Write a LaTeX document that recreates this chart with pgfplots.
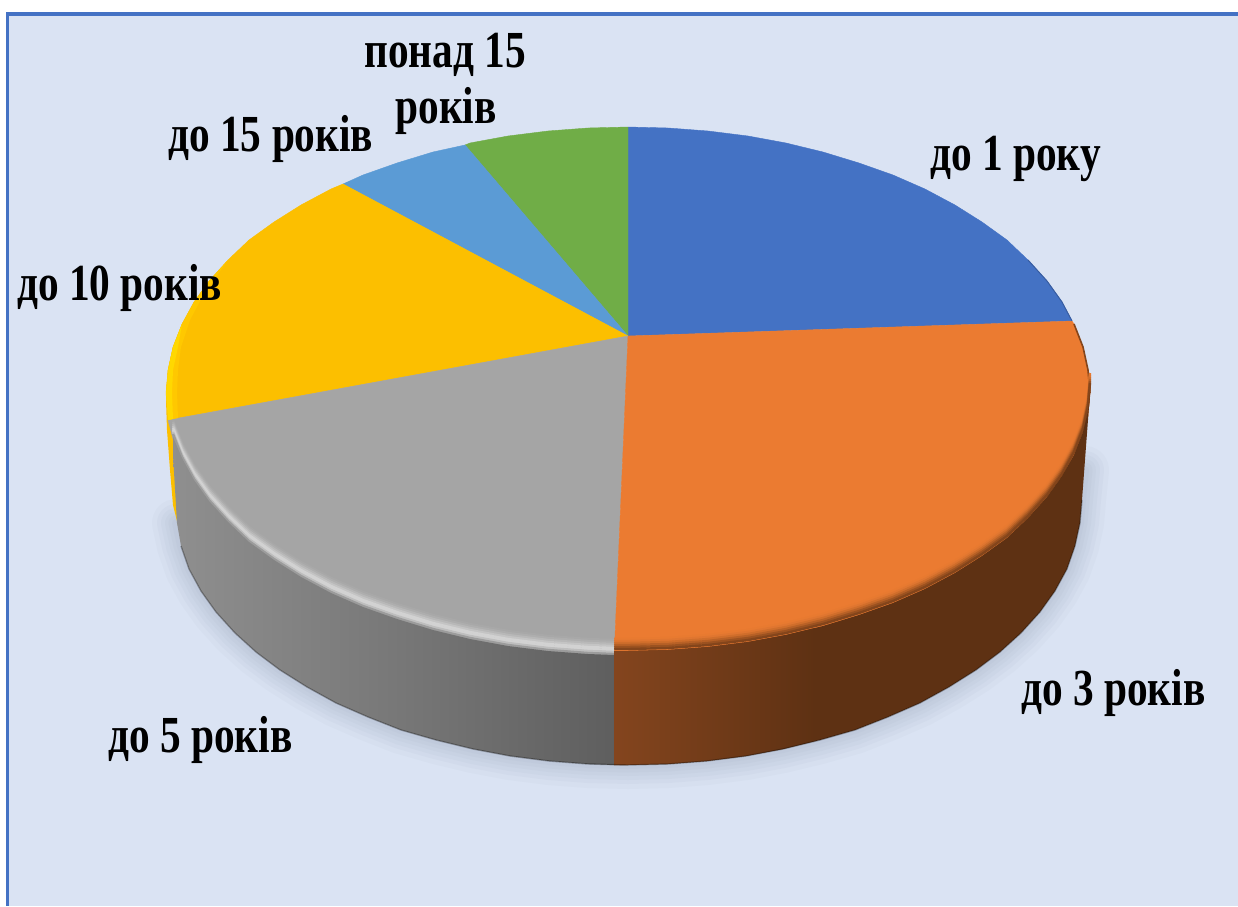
\documentclass[border=0pt]{standalone}
\usepackage{fontspec}
\setmainfont{Liberation Serif}
\usepackage{pgfplots}
\usepackage{pgfplotstable}
\pgfplotsset{compat=1.18}
\definecolor{bgc}{HTML}{DAE3F3}
\definecolor{frm}{HTML}{4472C4}
\definecolor{sb}{HTML}{4472C4}
\definecolor{so}{HTML}{EB7B31}
\definecolor{sg}{HTML}{A5A5A5}
\definecolor{sy}{HTML}{FCBF00}
\definecolor{sl}{HTML}{5B9BD5}
\definecolor{sn}{HTML}{70AD47}
\definecolor{shd}{HTML}{7F8FA8}
\definecolor{oa}{HTML}{E87A30}
\definecolor{ob}{HTML}{E07630}
\definecolor{oc}{HTML}{D06E2B}
\definecolor{od}{HTML}{B86126}
\definecolor{oe}{HTML}{9C5220}
\definecolor{of}{HTML}{84451B}
\definecolor{og}{HTML}{5E3113}
\definecolor{ol}{HTML}{84451E}
\definecolor{ga}{HTML}{A8A8A8}
\definecolor{gb}{HTML}{AEAEAE}
\definecolor{gc}{HTML}{B8B8B8}
\definecolor{gd}{HTML}{C4C4C4}
\definecolor{ge}{HTML}{D2D2D2}
\definecolor{gf}{HTML}{BEBEBE}
\definecolor{gg}{HTML}{9C9C9C}
\definecolor{ya}{HTML}{FFC800}
\definecolor{yb}{HTML}{FFD800}
% lower rim of the top face, orange slice
\pgfplotstableread{
x y
1090 393
1088 416
1083 439
1074 462
1062 484
1047 505
1028 526
1007 546
982 564
955 581
925 597
893 611
859 623
823 634
786 643
748 650
708 655
668 658
628 659
614 659
}\orim
% lower rim of the top face, grey slice
\pgfplotstableread{
x y
614 659
588 658
548 655
508 650
470 643
433 634
397 623
363 611
331 597
301 581
274 564
249 546
228 526
209 505
194 484
182 462
173 439
}\grim
% lower edge of the pie, used for its soft shadow
\pgfplotstableread{
x y
1085 470
1082 500
1080 523
1075 546
1067 569
1055 591
1040 612
1021 633
1000 652
976 670
949 687
920 703
888 717
855 730
820 740
783 749
746 756
707 761
668 764
628 765
588 764
549 761
510 756
473 749
436 740
401 730
368 717
336 703
307 687
280 670
256 652
235 633
216 612
201 591
189 569
181 546
176 523
}\edge
\begin{document}
\begin{tikzpicture}
\begin{axis}[
  scale only axis, width=619pt, height=453pt,
  xmin=0, xmax=1238, ymin=0, ymax=906, y dir=reverse,
  hide axis, clip=true,
]
% page and frame
\addplot[fill=white, draw=none] coordinates {(0,0)(1238,0)(1238,906)(0,906)} --cycle;
\addplot[fill=frm, draw=none] coordinates {(6,12)(1238,12)(1238,906)(6,906)} --cycle;
\addplot[fill=bgc, draw=none] coordinates {(9,16)(1238,16)(1238,906)(9,906)} --cycle;
% shadow
\addplot[draw=shd, opacity=.045, line width=24pt, line cap=round, line join=round] table {\edge};
\addplot[draw=shd, opacity=.05, line width=19pt, line cap=round, line join=round] table {\edge};
\addplot[draw=shd, opacity=.05, line width=15pt, line cap=round, line join=round] table {\edge};
\addplot[draw=shd, opacity=.05, line width=11pt, line cap=round, line join=round] table {\edge};
\addplot[draw=shd, opacity=.05, line width=7.5pt, line cap=round, line join=round] table {\edge};
\addplot[draw=shd, opacity=.05, line width=4pt, line cap=round, line join=round] table {\edge};
% yellow sliver of the side behind the grey slice
\addplot[fill=sy, draw=none] coordinates {(166,400)(167,430)(170,470)(173,505)(178,525)(182,525)(182,430)} --cycle;
% top faces
\addplot[fill=sb, draw=sb, line width=.2pt] coordinates {(628,336)(628,127)(668,128)(708,131)(748,136)(786,143)(823,152)(859,163)(893,175)(925,189)(955,205)(982,222)(1007,240)(1028,260)(1047,281)(1062,302)(1072,321)} --cycle;
\addplot[fill=sn, draw=sn, line width=.2pt] coordinates {(628,336)(465,145)(470,143)(508,136)(548,131)(588,128)(628,127)} --cycle;
\addplot[fill=sl, draw=sl, line width=.2pt] coordinates {(628,336)(343,184)(363,175)(397,163)(433,152)(465,145)} --cycle;
\addplot[fill=sy, draw=sy, line width=.2pt] coordinates {(628,336)(168,420)(166,393)(168,370)(173,347)(182,324)(194,302)(209,281)(228,260)(249,240)(274,222)(301,205)(331,189)(343,184)} --cycle;
\addplot[fill=sg, draw=sg, line width=.2pt] coordinates {(628,336)(614,659)(588,658)(548,655)(508,650)(470,643)(433,634)(397,623)(363,611)(331,597)(301,581)(274,564)(249,546)(228,526)(209,505)(194,484)(182,462)(173,439)(168,420)} --cycle;
\addplot[fill=so, draw=so, line width=.2pt] coordinates {(628,336)(1072,321)(1074,324)(1083,347)(1088,370)(1090,393)(1088,416)(1083,439)(1074,462)(1062,484)(1047,505)(1028,526)(1007,546)(982,564)(955,581)(925,597)(893,611)(859,623)(823,634)(786,643)(748,650)(708,655)(668,658)(628,659)(614,659)} --cycle;
% lighter rim of the yellow slice
\addplot[fill=ya, draw=none] coordinates {(166,393)(168,370)(173,347)(182,324)(194,302)(209,281)(228,260)(205,292)(190,320)(181,347)(178,370)(177,393)(178,418)(168,420)} --cycle;
\addplot[fill=yb, draw=none] coordinates {(166,393)(168,370)(173,347)(182,324)(178,347)(173,370)(172,393)(173,419)(168,420)} --cycle;
% darker rim of the blue slice
\addplot[draw=sb!82!black, line width=.5pt] coordinates {(1028,260)(1047,281)(1062,302)(1072,321)};
\addplot[draw=of, line width=.8pt] coordinates {(1074,324)(1083,347)(1088,370)(1090,393)};
% bevel on the orange slice
\addplot[draw=oa, line width=1.2pt] table[y expr=\thisrow{y}-20] {\orim};
\addplot[draw=ob, line width=1.2pt] table[y expr=\thisrow{y}-18] {\orim};
\addplot[draw=oc, line width=1.2pt] table[y expr=\thisrow{y}-16] {\orim};
\addplot[draw=od, line width=1.2pt] table[y expr=\thisrow{y}-14] {\orim};
\addplot[draw=oe, line width=1.2pt] table[y expr=\thisrow{y}-12] {\orim};
\addplot[draw=of, line width=1.2pt] table[y expr=\thisrow{y}-10] {\orim};
% bevel on the grey slice
\addplot[draw=ga, line width=1.2pt] table[y expr=\thisrow{y}-19] {\grim};
\addplot[draw=gb, line width=1.2pt] table[y expr=\thisrow{y}-17] {\grim};
\addplot[draw=gc, line width=1.2pt] table[y expr=\thisrow{y}-15] {\grim};
\addplot[draw=gd, line width=1.2pt] table[y expr=\thisrow{y}-13] {\grim};
\addplot[draw=ge, line width=1.2pt] table[y expr=\thisrow{y}-11] {\grim};
\addplot[draw=ge, line width=1.2pt] table[y expr=\thisrow{y}-9] {\grim};
\addplot[draw=gf, line width=1.2pt] table[y expr=\thisrow{y}-7] {\grim};
\addplot[draw=gg, line width=1.2pt] table[y expr=\thisrow{y}-5] {\grim};
% sides
\addplot[left color=black!44, right color=black!63, middle color=black!53, draw=none] coordinates {(614,655)(588,654)(548,651)(508,646)(470,639)(433,630)(397,619)(363,607)(331,593)(301,577)(274,560)(249,542)(228,522)(209,501)(194,480)(182,458)(173,437)(173,455)(177,523)(181,546)(189,569)(201,591)(216,612)(235,633)(256,652)(280,670)(307,687)(336,703)(368,717)(401,730)(436,740)(473,749)(510,756)(549,761)(588,764)(614,765)} --cycle;
\addplot[fill=og, draw=none] coordinates {(614,651)(628,651)(668,650)(708,647)(748,642)(786,635)(823,626)(859,615)(893,603)(925,589)(955,573)(982,556)(1007,538)(1028,518)(1047,497)(1062,476)(1074,455)(1083,432)(1088,411)(1090,393)(1082,500)(1080,523)(1075,546)(1067,569)(1055,591)(1040,612)(1021,633)(1000,652)(976,670)(949,687)(920,703)(888,717)(855,730)(820,740)(783,749)(746,756)(707,761)(668,764)(628,765)(614,765)} --cycle;
\addplot[left color=ol, right color=og, draw=none] coordinates {(614,651)(628,651)(668,650)(708,647)(748,642)(786,635)(815,628)(815,741)(783,749)(746,756)(707,761)(668,764)(628,765)(614,765)} --cycle;
% dark line along the lower edge
\addplot[draw=black, opacity=.3, line width=.7pt] coordinates {(1082,500)(1080,523)(1075,546)(1067,569)(1055,591)(1040,612)(1021,633)(1000,652)(976,670)(949,687)(920,703)(888,717)(855,730)(820,740)(783,749)(746,756)(707,761)(668,764)(628,765)(588,764)(549,761)(510,756)(473,749)(436,740)(401,730)(368,717)(336,703)(307,687)(280,670)(256,652)(235,633)(216,612)(201,591)(189,569)(181,546)};
% labels
\newcommand{\lab}[1]{\scalebox{.795}[1]{\fontsize{26}{30}\selectfont\bfseries #1}}
\node[anchor=base west, inner sep=0pt] at (axis cs:930,170) {\lab{до 1 року}};
\node[anchor=base west, inner sep=0pt] at (axis cs:1021,705) {\lab{до 3 років}};
\node[anchor=base west, inner sep=0pt] at (axis cs:108,752) {\lab{до 5 років}};
\node[anchor=base west, inner sep=0pt] at (axis cs:17,300) {\lab{до 10 років}};
\node[anchor=base west, inner sep=0pt] at (axis cs:168,151) {\lab{до 15 років}};
\node[anchor=base west, inner sep=0pt] at (axis cs:364,67) {\lab{понад 15}};
\node[anchor=base west, inner sep=0pt] at (axis cs:395,123) {\lab{років}};
\end{axis}
\end{tikzpicture}
\end{document}
